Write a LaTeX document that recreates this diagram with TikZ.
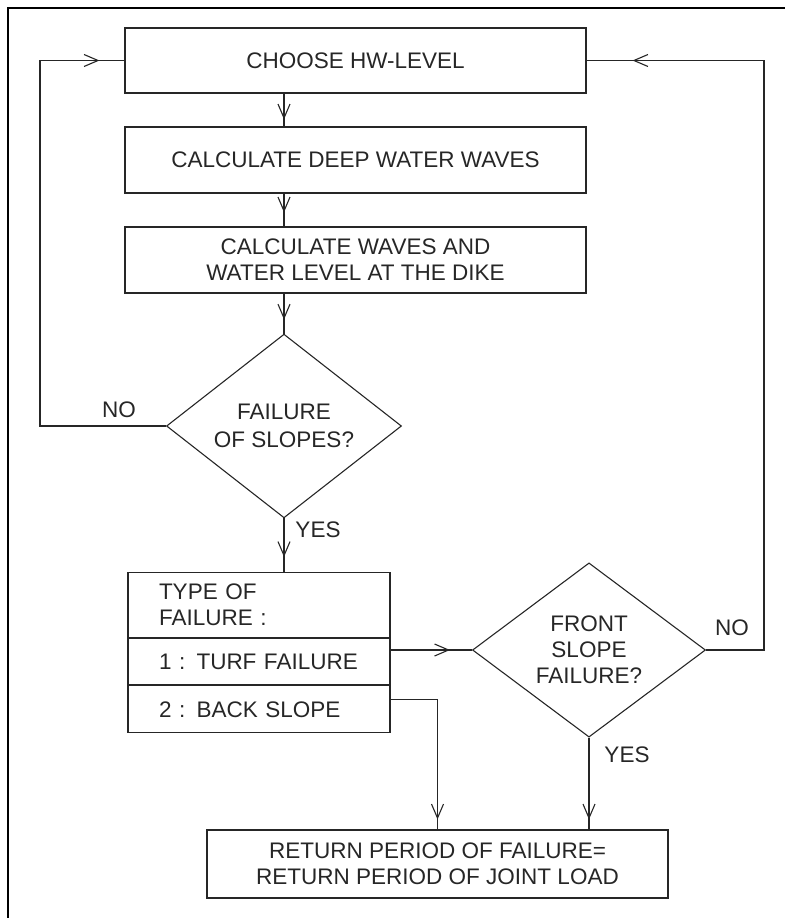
\documentclass[tikz,border=0pt]{standalone}
\usepackage{fontspec}
\setmainfont{Liberation Sans}
\usetikzlibrary{
  arrows.meta,           % for arrow tips
  decorations.markings,  % for arrow tips inside a line
  shapes.geometric,      % for diamond
  positioning}
\tikzset{
  flow box/.style={
    shape=rectangle, draw, align=center, inner sep=0pt,
    minimum width=461pt, minimum height=#1},
  flow box/.default=66pt,
  decision/.style={
    shape=diamond, draw, align=center, inner sep=0pt,
    minimum width=235pt, minimum height=157pt},
  type part/.style={
    shape=rectangle, draw, align=left, anchor=north,
    text width=200pt, inner xsep=31pt, inner ysep=0pt, minimum height=#1},
  mid arrow/.style={
    postaction={decorate},
    decoration={markings, mark=at position #1 with {\arrow{>}}}}
}

\begin{document}
\begin{tikzpicture}[
  x=1pt, y=-1pt,
  line width=1.1pt,
  color=black!85,
  font=\fontsize{22.5}{26}\selectfont,
  >={Straight Barb[length=14pt, width=12pt]}]

\useasboundingbox (0,0) rectangle (785,918);

% frame of the scan
\draw[line width=2pt, black] (8,918) -- (8,8) -- (785,8);

\node[flow box=65pt] (choose) at (355.5,60.5) {CHOOSE HW-LEVEL};
\node[flow box]      (deep)   at (355.5,160)  {CALCULATE DEEP WATER WAVES};
\node[flow box]      (dike)   at (355.5,260)  {CALCULATE WAVES AND\\
                                               WATER LEVEL AT THE DIKE};
\node[decision, font=\fontsize{22.5}{28}\selectfont]
  (fail-q) at (284,426) {FAILURE\\OF SLOPES?};

\node[type part=65pt] (type-hd) at (259,572) {TYPE OF\\FAILURE :};
\node[type part=46pt, below=0pt of type-hd] (type-1) {1 : TURF FAILURE};
\node[type part=47pt, below=0pt of type-1]  (type-2) {2 : BACK SLOPE};

\node[decision, minimum width=233pt, minimum height=155pt]
  (front-q) at (589,650) {FRONT\\SLOPE\\FAILURE?};
\node[flow box=68pt] (ret) at (437.5,864) {RETURN PERIOD OF FAILURE=\\
                                            RETURN PERIOD OF JOINT LOAD};

\coordinate (left-rail)  at (40,0);
\coordinate (right-rail) at (764,0);

% main column
\draw[mid arrow=-7pt]  (choose.south -| fail-q) -- (deep.north -| fail-q);
\draw[mid arrow=-14pt] (deep.south -| fail-q)   -- (dike.north -| fail-q);
\draw[mid arrow=-14pt] (dike.south -| fail-q)   -- (fail-q.north);
\draw[mid arrow=-15pt] (fail-q.south) -- (fail-q.south |- type-hd.north);

% loops back to the top
\draw[mid arrow=-25pt] (fail-q.west) -- (fail-q.west -| left-rail)
                       |- (choose.west);
\draw[mid arrow=-46pt] (front-q.east) -- (front-q.east -| right-rail)
                       |- (choose.east);

\draw[mid arrow=-22pt] (type-1.east |- front-q) -- (front-q.west);
\draw[mid arrow=-10pt] ([yshift=9.5pt]type-2.east) -| (ret.north);
\draw[mid arrow=-10pt] (front-q.south) -- (front-q.south |- ret.north);

\node (no-fail)   at (119,410) {NO};
\node (yes-fail)  at (318,530) {YES};
\node (no-front)  at (732,628) {NO};
\node (yes-front) at (627,755) {YES};
\end{tikzpicture}
\end{document}
